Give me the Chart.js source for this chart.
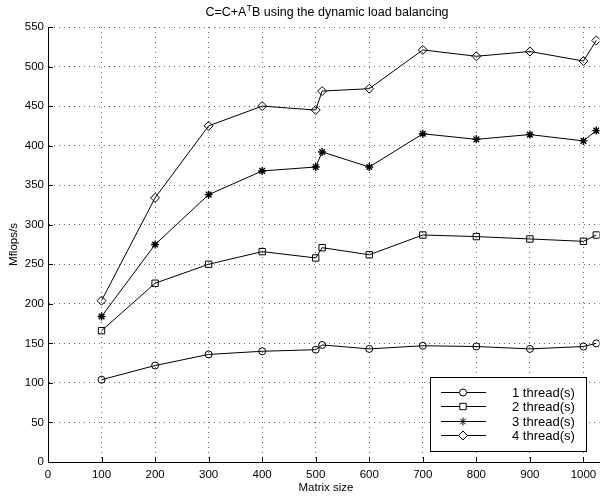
<!DOCTYPE html>
<html>
<head>
<meta charset="utf-8">
<script src="https://cdn.jsdelivr.net/npm/chart.js@4/dist/chart.umd.min.js"></script>
<style>
  html, body { margin: 0; padding: 0; background: #fff; }
  #wrap { width: 605px; height: 499px; }
</style>
</head>
<body>
<div id="wrap"><canvas id="chart" width="605" height="499"></canvas></div>
<script>
// matrix sizes (x)
const matrixSizes = [100, 200, 300, 400, 500, 512, 600, 700, 800, 900, 1000, 1024];

// Mflops/s per thread count
const thread1 = [104, 122, 136, 140, 142, 148, 143, 147, 146, 143, 146, 150];
const thread2 = [166, 226, 250, 266, 258, 271, 262, 287, 285, 282, 279, 287];
const thread3 = [184, 275, 338, 368, 373, 392, 373, 415, 408, 414, 406, 419];
const thread4 = [204, 334, 425, 450, 445, 469, 472, 521, 513, 519, 507, 533];

const seriesNames = ['1 thread(s)', '2 thread(s)', '3 thread(s)', '4 thread(s)'];
const seriesMarkers = ['circle', 'rect', 'star', 'rectRot'];
const markerSizes = [3.5, 4.5, 4, 4.5];

const xTicks = [0, 100, 200, 300, 400, 500, 600, 700, 800, 900, 1000];
const yTicks = [0, 50, 100, 150, 200, 250, 300, 350, 400, 450, 500, 550];

const titleMain = 'C=C+A';
const titleSup = 'T';
const titleRest = 'B using the dynamic load balancing';
const xLabel = 'Matrix size';
const yLabel = 'Mflops/s';

const FONT = "'Liberation Sans', Arial, Helvetica, sans-serif";

function toPoints(vals) {
    return matrixSizes.map(function (x, i) { return {x: x, y: vals[i]}; });
}

const allSeries = [thread1, thread2, thread3, thread4];

const datasets = allSeries.map(function (vals, i) {
    return {
        label: seriesNames[i],
        data: toPoints(vals),
        borderColor: '#000',
        borderWidth: 1,
        backgroundColor: 'rgba(0,0,0,0)',
        pointStyle: seriesMarkers[i],
        pointRadius: markerSizes[i],
        pointBorderColor: '#000',
        pointBackgroundColor: 'rgba(0,0,0,0)',
        pointBorderWidth: seriesMarkers[i] === 'star' ? 1.4 : 1,
        pointHoverRadius: markerSizes[i],
        tension: 0
    };
});

// title, axis labels, inward ticks and the boxed legend
const decorations = {
    id: 'decorations',
    afterDraw: function (chart) {
        const ctx = chart.ctx;
        const xs = chart.scales.x;
        const ys = chart.scales.y;
        const area = chart.chartArea;

        ctx.save();
        // inward tick marks
        ctx.strokeStyle = '#000';
        ctx.lineWidth = 1;
        ctx.beginPath();
        xTicks.forEach(function (v) {
            const px = Math.round(xs.getPixelForValue(v)) + 0.5;
            ctx.moveTo(px, area.bottom);
            ctx.lineTo(px, area.bottom - 5);
        });
        yTicks.forEach(function (v) {
            const py = Math.round(ys.getPixelForValue(v)) + 0.5;
            ctx.moveTo(area.left, py);
            ctx.lineTo(area.left + 5, py);
        });
        ctx.stroke();

        // title with superscript
        ctx.fillStyle = '#000';
        ctx.textBaseline = 'alphabetic';
        ctx.textAlign = 'left';
        const big = '12.5px ' + FONT, small = '9px ' + FONT;
        ctx.font = big;
        const w1 = ctx.measureText(titleMain).width;
        const w3 = ctx.measureText(titleRest).width;
        ctx.font = small;
        const w2 = ctx.measureText(titleSup).width;
        let tx = 327 - (w1 + w2 + w3) / 2;
        const ty = 16;
        ctx.font = big;
        ctx.fillText(titleMain, tx, ty);
        tx += w1;
        ctx.font = small;
        ctx.fillText(titleSup, tx, ty - 5);
        tx += w2;
        ctx.font = big;
        ctx.fillText(titleRest, tx, ty);

        // axis labels
        ctx.font = '11.5px ' + FONT;
        ctx.textAlign = 'center';
        ctx.textBaseline = 'middle';
        ctx.fillText(xLabel, 326, 488);
        ctx.save();
        ctx.translate(14, (area.top + area.bottom) / 2);
        ctx.rotate(-Math.PI / 2);
        ctx.fillText(yLabel, 0, 0);
        ctx.restore();

        // legend box
        const bx = 430.5, by = 377.5, bw = 156, bh = 74;
        ctx.fillStyle = '#fff';
        ctx.fillRect(bx, by, bw, bh);
        ctx.strokeStyle = '#000';
        ctx.lineWidth = 1;
        ctx.strokeRect(bx, by, bw, bh);
        ctx.font = '13px ' + FONT;
        ctx.textAlign = 'left';
        ctx.textBaseline = 'middle';
        seriesNames.forEach(function (name, i) {
            const ry = Math.round(392 + i * 14.4) + 0.5;
            ctx.strokeStyle = '#000';
            ctx.lineWidth = 1;
            ctx.beginPath();
            ctx.moveTo(441, ry);
            ctx.lineTo(486, ry);
            ctx.stroke();
            ctx.fillStyle = '#fff';
            Chart.helpers.drawPoint(ctx, {
                pointStyle: seriesMarkers[i],
                radius: markerSizes[i],
                rotation: 0,
                borderWidth: seriesMarkers[i] === 'star' ? 1.4 : 1
            }, 463, ry);
            ctx.fillStyle = '#000';
            ctx.fillText(name, 512, ry + 0.5);
        });
        ctx.restore();
    }
};

new Chart(document.getElementById('chart').getContext('2d'), {
    type: 'line',
    data: {datasets: datasets},
    options: {
        responsive: false,
        animation: false,
        devicePixelRatio: 1,
        events: [],
        layout: {padding: {top: 27, left: 0, right: 0, bottom: 0}},
        plugins: {
            legend: {display: false},
            title: {display: false},
            tooltip: {enabled: false}
        },
        scales: {
            x: {
                type: 'linear',
                min: 0,
                max: 1030,
                afterFit: function (s) { s.height = 37; },
                afterBuildTicks: function (s) {
                    s.ticks = xTicks.map(function (v) { return {value: v}; });
                },
                ticks: {
                    autoSkip: false,
                    maxRotation: 0,
                    minRotation: 0,
                    padding: 6,
                    color: '#000',
                    font: {family: FONT, size: 11.5},
                    callback: function (v) { return String(v); }
                },
                grid: {color: '#666', lineWidth: 1, drawTicks: false},
                border: {display: true, color: '#000', width: 1, dash: [1, 4]}
            },
            y: {
                type: 'linear',
                min: 0,
                max: 550,
                afterFit: function (s) { s.width = 48; },
                afterBuildTicks: function (s) {
                    s.ticks = yTicks.map(function (v) { return {value: v}; });
                },
                ticks: {
                    autoSkip: false,
                    padding: 4,
                    color: '#000',
                    font: {family: FONT, size: 11.5},
                    callback: function (v) { return String(v); }
                },
                grid: {color: '#666', lineWidth: 1, drawTicks: false},
                border: {display: true, color: '#000', width: 1, dash: [1, 4]}
            }
        }
    },
    plugins: [decorations]
});
</script>
</body>
</html>
